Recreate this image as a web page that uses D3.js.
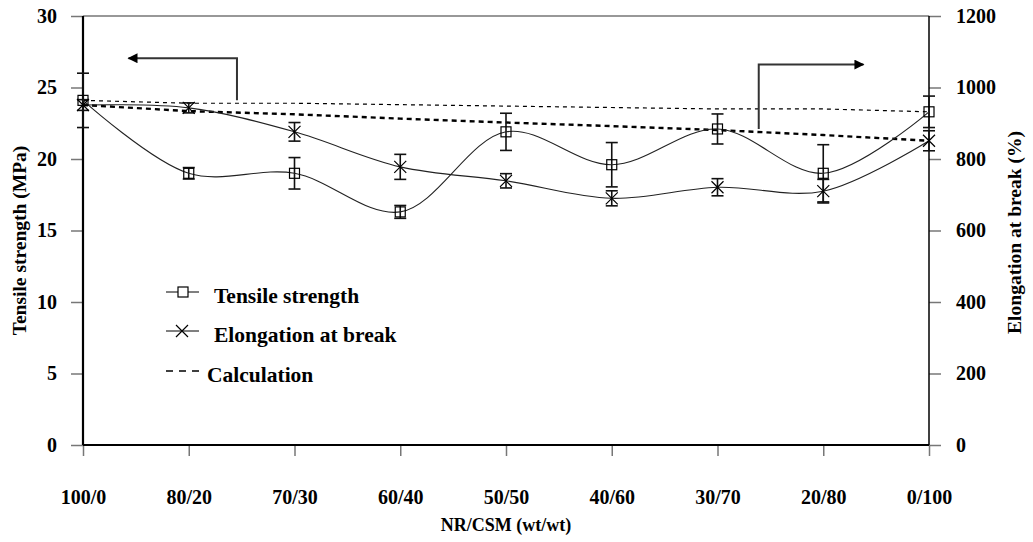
<!DOCTYPE html>
<html>
<head>
<meta charset="utf-8">
<script src="https://cdn.jsdelivr.net/npm/d3@7"></script>
<style>
  body { margin: 0; background: #fff; }
  svg { display: block; }
  svg text { font-family: "Times New Roman", "Liberation Serif", "DejaVu Serif", serif !important; font-weight: bold; fill: #000; }
</style>
</head>
<body>
<div id="chart"></div>
<script>
// data
const categories = ["100/0", "80/20", "70/30", "60/40", "50/50", "40/60", "30/70", "20/80", "0/100"];
const tensile = [24.1, 19.0, 19.0, 16.3, 21.9, 19.6, 22.1, 19.0, 23.3];
const tensileErr = [1.9, 0.4, 1.1, 0.45, 1.3, 1.55, 1.05, 2.0, 1.1];
const elongation = [951, 943, 876, 778, 739, 690, 721, 710, 851];
const elongationErr = [15, 14, 26, 35, 20, 21, 24, 33, 28];
const tensileCalc = [24.1, 23.9, 23.9, 23.8, 23.7, 23.6, 23.5, 23.5, 23.3];
const elongationCalc = [951, 934, 925, 913, 902, 892, 881, 867, 851];
const leftTicks = [0, 5, 10, 15, 20, 25, 30];
const rightTicks = [0, 200, 400, 600, 800, 1000, 1200];

const W = 1033, H = 542;
const margin = { top: 16, right: 104, bottom: 97, left: 83 };

const svg = d3.select("#chart").append("svg")
    .attr("width", W)
    .attr("height", H);

const x = d3.scalePoint()
    .domain(categories)
    .range([margin.left, W - margin.right]);

// index scale, used for the annotation arrows between categories
const xi = d3.scaleLinear()
    .domain([0, categories.length - 1])
    .range([margin.left, W - margin.right]);

const yL = d3.scaleLinear().domain([0, 30]).range([H - margin.bottom, margin.top]);
const yR = d3.scaleLinear().domain([0, 1200]).range([H - margin.bottom, margin.top]);

const x0 = margin.left, x1 = W - margin.right;
const yb = H - margin.bottom, yt = margin.top;

// axes
const axL = svg.append("g")
    .attr("transform", "translate(" + x0 + ",0)")
    .call(d3.axisLeft(yL).tickValues(leftTicks).tickSize(12).tickPadding(14).tickFormat(d3.format("d")));
const axR = svg.append("g")
    .attr("transform", "translate(" + x1 + ",0)")
    .call(d3.axisRight(yR).tickValues(rightTicks).tickSize(12).tickPadding(15).tickFormat(d3.format("d")));
const axB = svg.append("g")
    .attr("transform", "translate(0," + yb + ")")
    .call(d3.axisBottom(x).tickSize(11).tickPadding(34));

[axL, axR, axB].forEach(function(g) {
    g.attr("font-family", null).attr("font-size", null);
    g.select(".domain").remove();
    g.selectAll(".tick line").attr("stroke", "#777").attr("stroke-width", 1.5);
    g.selectAll(".tick text").style("font-size", "20px");
});

// frame
svg.append("line").attr("x1", x0).attr("x2", x1).attr("y1", yt).attr("y2", yt)
    .attr("stroke", "#333").attr("stroke-width", 1.2);
svg.append("line").attr("x1", x0).attr("x2", x1).attr("y1", yb).attr("y2", yb)
    .attr("stroke", "#000").attr("stroke-width", 1.8);
svg.append("line").attr("x1", x0).attr("x2", x0).attr("y1", yt).attr("y2", yb)
    .attr("stroke", "#000").attr("stroke-width", 2.2);
svg.append("line").attr("x1", x1).attr("x2", x1).attr("y1", yt).attr("y2", yb)
    .attr("stroke", "#000").attr("stroke-width", 1.5);

// axis titles
svg.append("text")
    .attr("transform", "translate(26," + ((yt + yb) / 2 + 10) + ") rotate(-90)")
    .attr("text-anchor", "middle")
    .style("font-size", "19.5px")
    .text("Tensile strength (MPa)");
svg.append("text")
    .attr("transform", "translate(1021," + ((yt + yb) / 2 + 2) + ") rotate(-90)")
    .attr("text-anchor", "middle")
    .style("font-size", "19.5px")
    .text("Elongation at break (%)");
svg.append("text")
    .attr("x", (x0 + x1) / 2)
    .attr("y", 531)
    .attr("text-anchor", "middle")
    .style("font-size", "18px")
    .text("NR/CSM (wt/wt)");

// calculation lines
const lineL = d3.line().x(function(d, i) { return x(categories[i]); }).y(function(d) { return yL(d); });
const lineR = d3.line().x(function(d, i) { return x(categories[i]); }).y(function(d) { return yR(d); });

svg.append("path").attr("d", lineL(tensileCalc))
    .attr("fill", "none").attr("stroke", "#000").attr("stroke-width", 1.2)
    .attr("stroke-dasharray", "4,4");
svg.append("path").attr("d", lineR(elongationCalc))
    .attr("fill", "none").attr("stroke", "#000").attr("stroke-width", 2.4)
    .attr("stroke-dasharray", "5,4");

// error bars
function errorBars(vals, errs, y) {
    const g = svg.append("g").attr("stroke", "#111").attr("stroke-width", 1.6);
    vals.forEach(function(v, i) {
        const cx = x(categories[i]);
        const lo = y(v - errs[i]), hi = y(v + errs[i]);
        g.append("line").attr("x1", cx).attr("x2", cx).attr("y1", lo).attr("y2", hi);
        g.append("line").attr("x1", cx - 6).attr("x2", cx + 6).attr("y1", lo).attr("y2", lo);
        g.append("line").attr("x1", cx - 6).attr("x2", cx + 6).attr("y1", hi).attr("y2", hi);
    });
}
errorBars(tensile, tensileErr, yL);
errorBars(elongation, elongationErr, yR);

// smoothed data lines
const smoothL = d3.line().curve(d3.curveCatmullRom.alpha(0.5))
    .x(function(d, i) { return x(categories[i]); }).y(function(d) { return yL(d); });
const smoothR = d3.line().curve(d3.curveCatmullRom.alpha(0.5))
    .x(function(d, i) { return x(categories[i]); }).y(function(d) { return yR(d); });

svg.append("path").attr("d", smoothL(tensile))
    .attr("fill", "none").attr("stroke", "#222").attr("stroke-width", 1.1);
svg.append("path").attr("d", smoothR(elongation))
    .attr("fill", "none").attr("stroke", "#222").attr("stroke-width", 1.1);

// markers
svg.append("g").selectAll("rect")
    .data(tensile)
    .enter().append("rect")
    .attr("x", function(d, i) { return x(categories[i]) - 5; })
    .attr("y", function(d) { return yL(d) - 5; })
    .attr("width", 10).attr("height", 10)
    .attr("fill", "none").attr("stroke", "#000").attr("stroke-width", 1.2);

svg.append("g").selectAll("path")
    .data(elongation)
    .enter().append("path")
    .attr("d", function(d, i) {
        const cx = x(categories[i]), cy = yR(d), s = 6;
        return "M" + (cx - s) + "," + (cy - s) + "L" + (cx + s) + "," + (cy + s) +
               "M" + (cx - s) + "," + (cy + s) + "L" + (cx + s) + "," + (cy - s);
    })
    .attr("fill", "none").attr("stroke", "#000").attr("stroke-width", 1.2);

// arrows pointing to each axis
svg.append("defs").append("marker")
    .attr("id", "head")
    .attr("viewBox", "0 0 10 10")
    .attr("refX", 9).attr("refY", 5)
    .attr("markerWidth", 7).attr("markerHeight", 5)
    .attr("markerUnits", "strokeWidth")
    .attr("orient", "auto")
    .append("path").attr("d", "M0,0L10,5L0,10Z").attr("fill", "#000");

svg.append("path")
    .attr("d", "M" + xi(1.456) + "," + yL(24.1) + "V" + yL(27.05) + "H" + xi(0.43))
    .attr("fill", "none").attr("stroke", "#333").attr("stroke-width", 2)
    .attr("marker-end", "url(#head)");
svg.append("path")
    .attr("d", "M" + xi(6.39) + "," + yL(22.1) + "V" + yL(26.6) + "H" + xi(7.38))
    .attr("fill", "none").attr("stroke", "#333").attr("stroke-width", 2)
    .attr("marker-end", "url(#head)");

// legend
const legend = svg.append("g").attr("transform", "translate(166,0)");
const rowY = [292, 331, 371];

legend.append("line").attr("x1", 0).attr("x2", 33).attr("y1", rowY[0]).attr("y2", rowY[0])
    .attr("stroke", "#000").attr("stroke-width", 1);
legend.append("rect").attr("x", 12).attr("y", rowY[0] - 5).attr("width", 10).attr("height", 10)
    .attr("fill", "#fff").attr("stroke", "#000").attr("stroke-width", 1.2);
legend.append("text").attr("x", 48).attr("y", rowY[0] + 11).style("font-size", "21.5px").text("Tensile strength");

legend.append("line").attr("x1", 0).attr("x2", 33).attr("y1", rowY[1]).attr("y2", rowY[1])
    .attr("stroke", "#000").attr("stroke-width", 1);
legend.append("path")
    .attr("d", "M10," + (rowY[1] - 6) + "L22," + (rowY[1] + 6) + "M10," + (rowY[1] + 6) + "L22," + (rowY[1] - 6))
    .attr("stroke", "#000").attr("stroke-width", 1.2);
legend.append("text").attr("x", 48).attr("y", rowY[1] + 11).style("font-size", "21.5px").text("Elongation at break");

legend.append("line").attr("x1", 0).attr("x2", 33).attr("y1", rowY[2]).attr("y2", rowY[2])
    .attr("stroke", "#000").attr("stroke-width", 1.6).attr("stroke-dasharray", "7,6");
legend.append("text").attr("x", 41).attr("y", rowY[2] + 11).style("font-size", "21.5px").text("Calculation");
</script>
</body>
</html>
